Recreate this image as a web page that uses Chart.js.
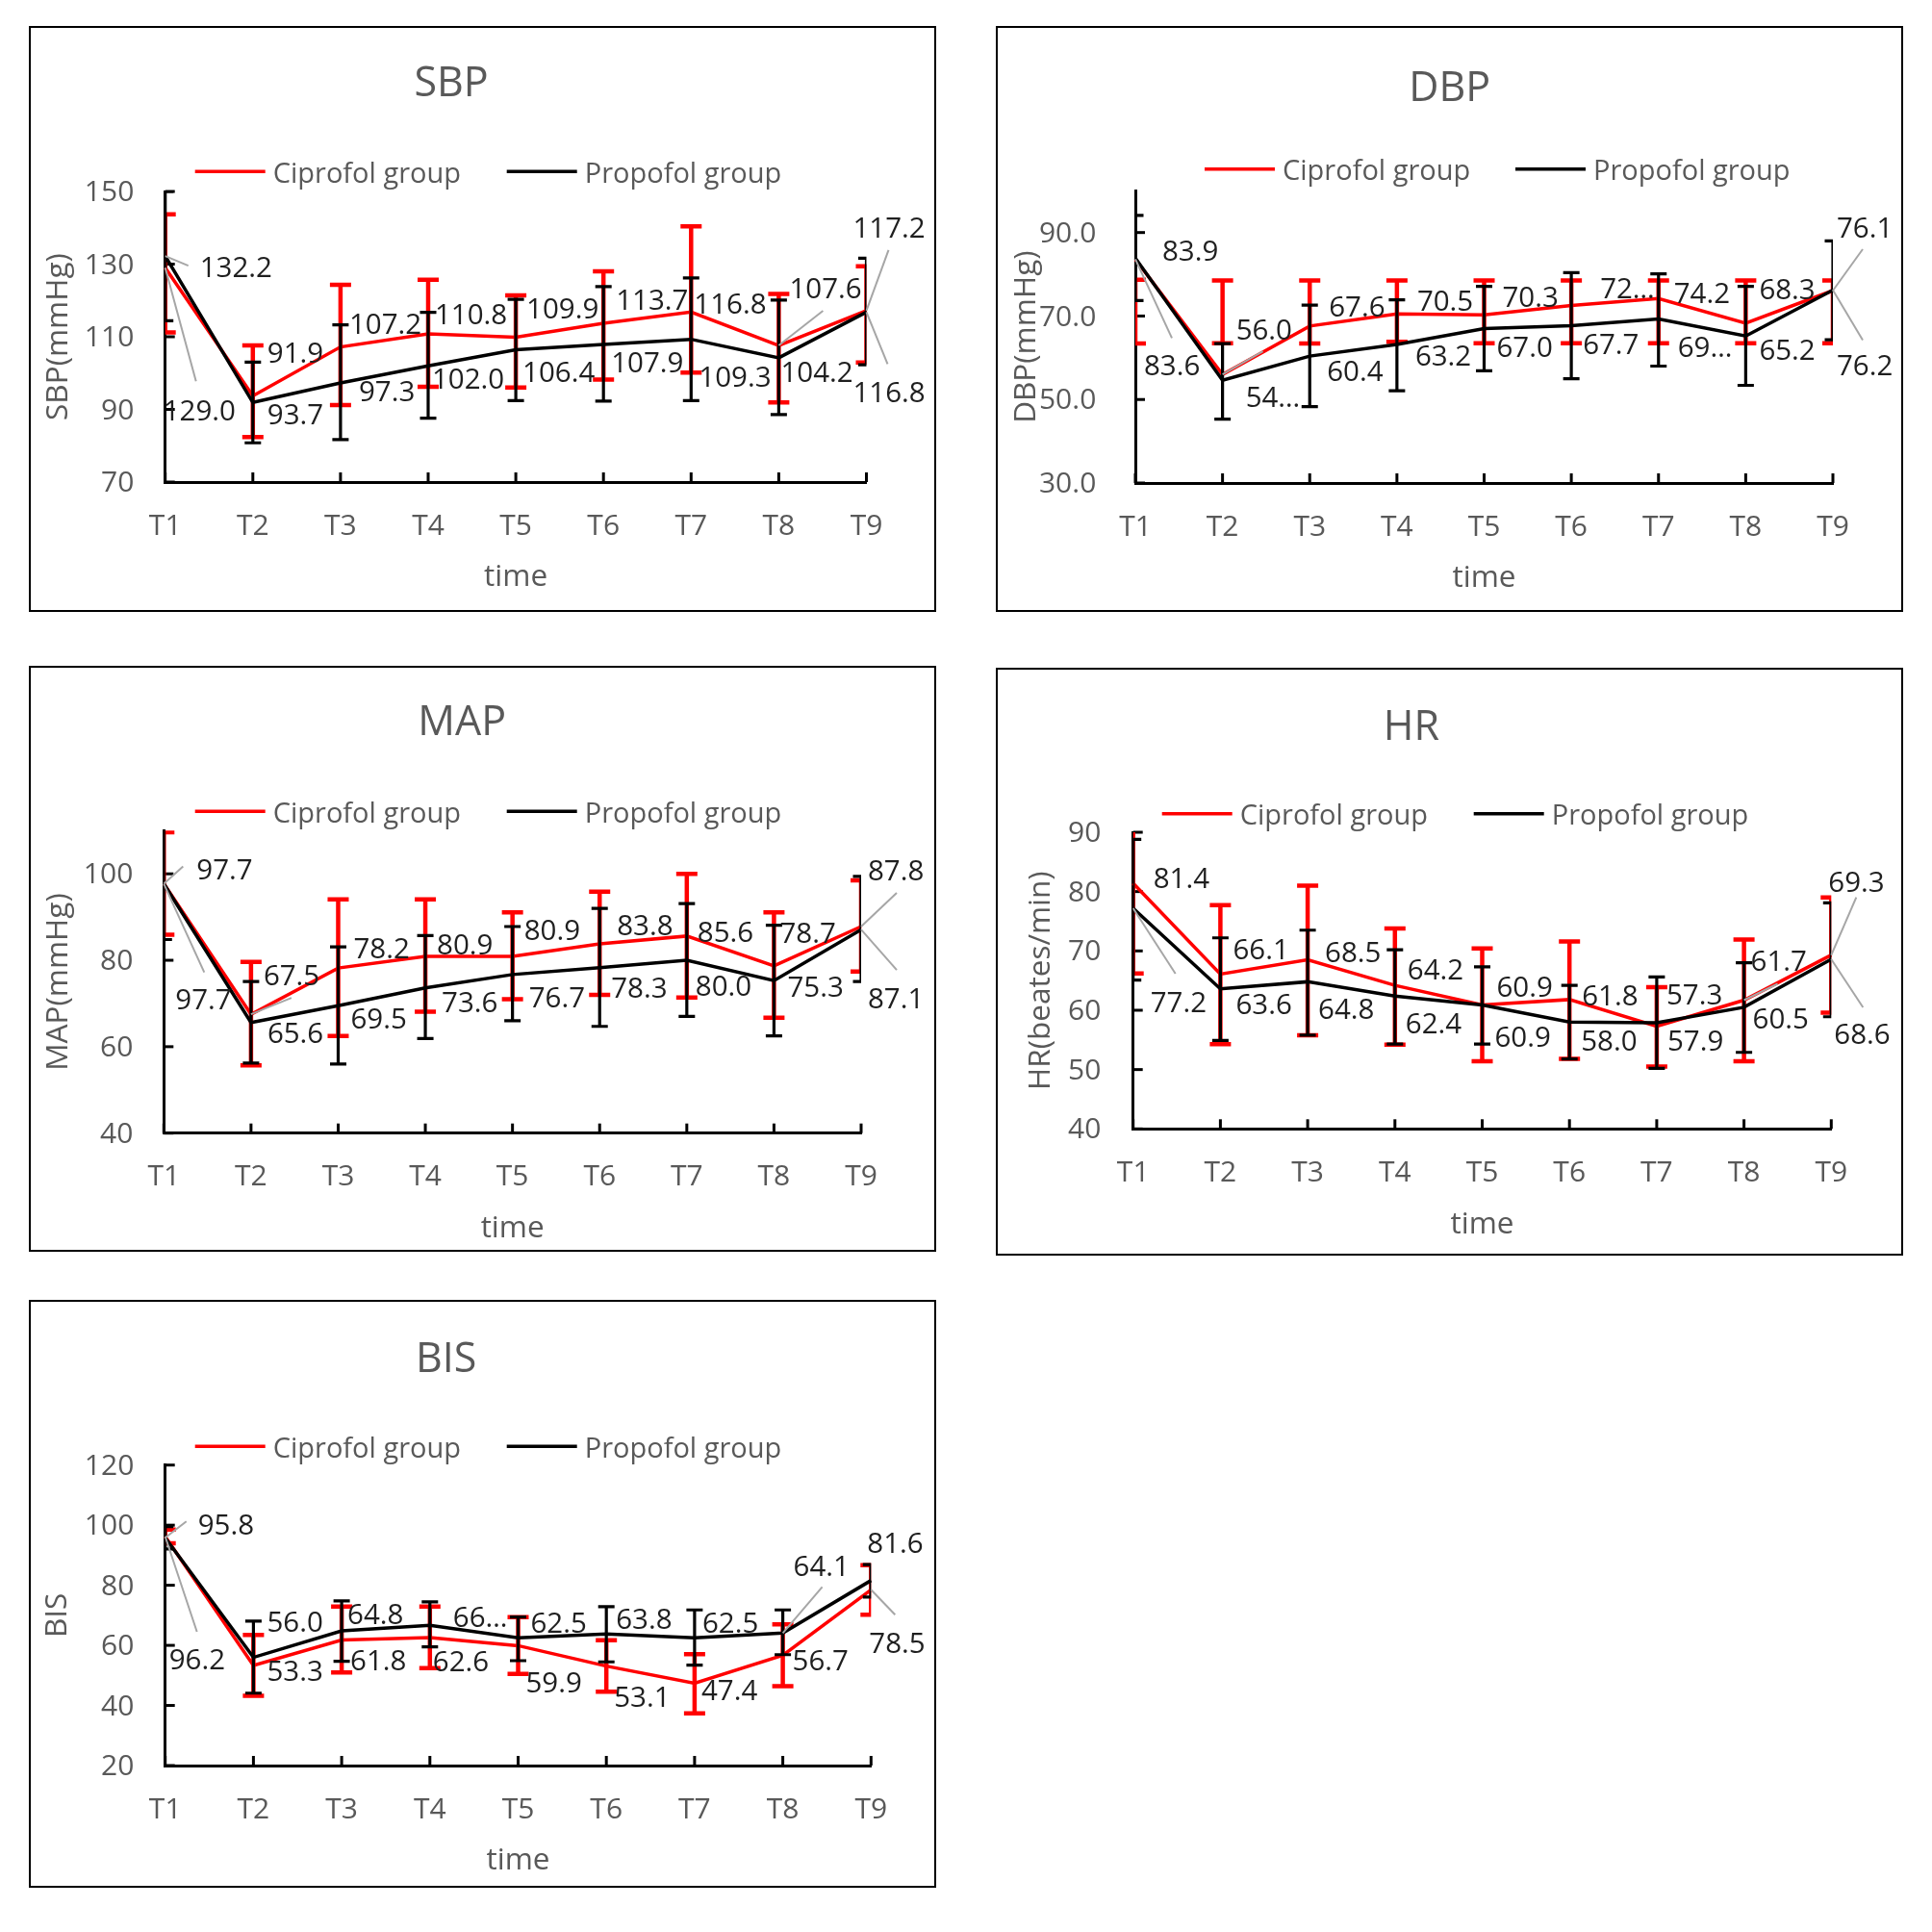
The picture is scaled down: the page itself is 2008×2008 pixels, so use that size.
<!DOCTYPE html>
<html><head><meta charset="utf-8">
<script src="https://cdn.jsdelivr.net/npm/chart.js@4.4.1/dist/chart.umd.min.js"></script>
<style>
html,body{margin:0;padding:0;background:#fff;}
body{width:2008px;height:2008px;position:relative;overflow:hidden;}
.panel{position:absolute;box-sizing:border-box;border:2px solid #000;}
.panel canvas{position:absolute;left:-2px;top:-2px;}
</style></head><body>
<script>
const FONT = "'Open Sans', 'Noto Sans', 'DejaVu Sans', sans-serif";
Chart.defaults.font.family = FONT;

const categories = ['T1','T2','T3','T4','T5','T6','T7','T8','T9'];
const seriesNames = ['Ciprofol group', 'Propofol group'];

// ---- SBP ----
const sbpTicks = [70, 90, 110, 130, 150];
const sbpCiprofol = [129.0, 93.7, 107.2, 110.8, 109.9, 113.7, 116.8, 107.6, 117.2];
const sbpPropofol = [132.2, 91.9, 97.3, 102.0, 106.4, 107.9, 109.3, 104.2, 116.8];
const sbpCiprofolHigh = [143.7, 107.6, 124.3, 125.7, 121.4, 128.0, 140.4, 121.8, 129.4];
const sbpCiprofolLow  = [111.2, 82.4, 91.2, 96.2, 96.0, 98.2, 100.1, 91.9, 102.9];
const sbpPropofolHigh = [150.0, 103.0, 113.3, 116.7, 120.3, 123.8, 126.2, 120.1, 131.6];
const sbpPropofolLow  = [114.4, 80.8, 81.7, 87.6, 92.4, 92.3, 92.4, 88.6, 102.3];

// ---- DBP ----
const dbpTicks = [30, 50, 70, 90];
const dbpCiprofol = [83.6, 56.0, 67.6, 70.5, 70.3, 72.5, 74.2, 68.3, 76.1];
const dbpPropofol = [83.9, 54.6, 60.4, 63.2, 67.0, 67.7, 69.3, 65.2, 76.2];
const dbpCiprofolHigh = [78.7, 78.5, 78.5, 78.5, 78.5, 78.5, 78.5, 78.5, 78.5];
const dbpCiprofolLow  = [63.4, 63.5, 63.4, 63.8, 63.5, 63.5, 63.5, 63.5, 63.5];
const dbpPropofolHigh = [94.1, 63.4, 72.6, 73.9, 77.1, 80.4, 80.1, 77.1, 88.0];
const dbpPropofolLow  = [73.7, 45.3, 48.3, 52.1, 56.9, 55.0, 58.0, 53.4, 64.3];

// ---- MAP ----
const mapTicks = [40, 60, 80, 100];
const mapCiprofol = [97.7, 67.5, 78.2, 80.9, 80.9, 83.8, 85.6, 78.7, 87.8];
const mapPropofol = [97.7, 65.6, 69.5, 73.6, 76.7, 78.3, 80.0, 75.3, 87.1];
const mapCiprofolHigh = [109.6, 79.6, 94.1, 94.1, 91.1, 95.9, 100.0, 91.1, 98.5];
const mapCiprofolLow  = [85.9, 55.7, 62.5, 68.1, 71.0, 72.0, 71.4, 66.7, 77.4];
const mapPropofolHigh = [110.6, 75.1, 83.1, 85.7, 87.8, 92.0, 93.1, 88.1, 99.4];
const mapPropofolLow  = [84.8, 56.2, 56.0, 61.9, 66.0, 64.7, 67.0, 62.5, 75.1];

// ---- HR ----
const hrTicks = [40, 50, 60, 70, 80, 90];
const hrCiprofol = [81.4, 66.1, 68.5, 64.2, 60.9, 61.8, 57.3, 61.7, 69.3];
const hrPropofol = [77.2, 63.6, 64.8, 62.4, 60.9, 58.0, 57.9, 60.5, 68.6];
const hrCiprofolHigh = [96.6, 77.7, 81.0, 73.8, 70.4, 71.6, 63.9, 71.9, 79.0];
const hrCiprofolLow  = [66.2, 54.3, 55.8, 54.2, 51.4, 51.8, 50.5, 51.4, 59.6];
const hrPropofolHigh = [88.8, 72.2, 73.5, 70.2, 67.3, 64.2, 65.6, 68.0, 78.1];
const hrPropofolLow  = [65.1, 54.9, 55.8, 54.3, 54.3, 51.8, 50.2, 52.9, 58.9];

// ---- BIS ----
const bisTicks = [20, 40, 60, 80, 100, 120];
const bisCiprofol = [96.2, 53.3, 61.8, 62.6, 59.9, 53.1, 47.4, 56.7, 78.5];
const bisPropofol = [95.8, 56.0, 64.8, 66.7, 62.5, 63.8, 62.5, 64.1, 81.6];
const bisCiprofolHigh = [98.5, 63.5, 72.9, 72.9, 69.4, 61.7, 57.1, 67.0, 86.7];
const bisCiprofolLow  = [94.0, 43.2, 51.0, 52.4, 50.5, 44.6, 37.4, 46.4, 70.2];
const bisPropofolHigh = [99.5, 68.1, 74.8, 74.5, 69.4, 72.9, 71.8, 71.8, 86.9];
const bisPropofolLow  = [92.1, 44.1, 54.7, 59.5, 54.9, 54.5, 53.4, 56.9, 76.1];

// ---- label placement (offsets in px: [dx, dy, leaderX, leaderY, keepChars]) ----
const sbpCipLbl = [[-2,147,32,118],[15,18],[9,-25],[7,-21],[11,-31],[13,-25],[3,-10],[11,-60,46,-36],[-14,-87,23,-63]];
const sbpProLbl = [[36,10,24,10],[15,-53],[19,8],[4,12],[7,22],[8,18],[8,38],[2,14],[-14,82,22,54]];
const dbpCipLbl = [[9,109,38,82],[14,-48,42,-24],[20,-21],[21,-15],[19,-20],[30,-19,null,null,2],[16,-7],[14,-36],[4,-66,31,-43]];
const dbpProLbl = [[28,-9],[24,16,null,null,2],[18,14],[19,11],[13,18],[12,18],[20,28,null,null,2],[14,13],[4,77,31,52]];
const mapCipLbl = [[12,119,42,92],[13,-42,42,-17],[16,-22],[12,-13],[12,-28],[18,-20],[11,-5],[6,-35],[7,-59,37,-35]];
const mapProLbl = [[34,-16,20,-18],[17,10],[13,12],[17,14],[17,23],[12,20],[9,26],[14,5],[7,70,37,42]];
const hrCipLbl = [[21,-6],[13,-27],[18,-9],[13,-17],[15,-20],[13,-5],[10,-34],[7,-42,35,-17],[-3,-77,26,-60]];
const hrProLbl = [[18,97,44,68],[16,15],[11,27],[11,27],[13,32],[12,18],[11,18],[9,11],[3,77,33,50]];
const bisCipLbl = [[4,127,33,99],[14,5],[9,20],[3,24],[8,37],[8,31],[7,6],[10,4],[-2,54,25,26]];
const bisProLbl = [[34,-15,22,-17],[14,-38],[6,-18],[24,-10,null,null,2],[13,-17],[10,-17],[8,-17],[11,-71,41,-48],[-4,-40]];

const panels = [
  {title:'SBP', yTitle:'SBP(mmHg)', box:[30,27,943,609], area:[171.7,900.5,199,501], yMin:70, yMax:150, ticks:sbpTicks, dec:0,
   yGap:32.4, yTitleX:61, titlePos:[469,88], legend:[178.3,202.7,526.7],
   cip:sbpCiprofol, pro:sbpPropofol, cipHi:sbpCiprofolHigh, cipLo:sbpCiprofolLow, proHi:sbpPropofolHigh, proLo:sbpPropofolLow, cipLbl:sbpCipLbl, proLbl:sbpProLbl},
  {title:'DBP', yTitle:'DBP(mmHg)', box:[1035,27,943,609], area:[1180,1905,198.3,502], yMin:30, yMax:100, ticks:dbpTicks, dec:1,
   yGap:40.7, yTitleX:1066.7, titlePos:[1506.6,92.5], legend:[175.7,1252,1575],
   cip:dbpCiprofol, pro:dbpPropofol, cipHi:dbpCiprofolHigh, cipLo:dbpCiprofolLow, proHi:dbpPropofolHigh, proLo:dbpPropofolLow, cipLbl:dbpCipLbl, proLbl:dbpProLbl},
  {title:'MAP', yTitle:'MAP(mmHg)', box:[30,692,943,609], area:[170.3,895,863.3,1177.7], yMin:40, yMax:110, ticks:mapTicks, dec:0,
   yGap:32, yTitleX:61, titlePos:[480.2,752], legend:[843.3,202.7,526.7],
   cip:mapCiprofol, pro:mapPropofol, cipHi:mapCiprofolHigh, cipLo:mapCiprofolLow, proHi:mapPropofolHigh, proLo:mapPropofolLow, cipLbl:mapCipLbl, proLbl:mapProLbl},
  {title:'HR', yTitle:'HR(beates/min)', box:[1035,694,943,611], area:[1177.7,1903.3,865,1173.3], yMin:40, yMax:90, ticks:hrTicks, dec:0,
   yGap:33.4, yTitleX:1081.8, titlePos:[1466.9,757], legend:[845.7,1207.7,1531.7],
   cip:hrCiprofol, pro:hrPropofol, cipHi:hrCiprofolHigh, cipLo:hrCiprofolLow, proHi:hrPropofolHigh, proLo:hrPropofolLow, cipLbl:hrCipLbl, proLbl:hrProLbl},
  {title:'BIS', yTitle:'BIS', box:[30,1351,943,611], area:[171.7,905.3,1522.7,1835], yMin:20, yMax:120, ticks:bisTicks, dec:0,
   yGap:32.4, yTitleX:60, titlePos:[463.6,1414], legend:[1503.3,202.7,526.7],
   cip:bisCiprofol, pro:bisPropofol, cipHi:bisCiprofolHigh, cipLo:bisCiprofolLow, proHi:bisPropofolHigh, proLo:bisPropofolLow, cipLbl:bisCipLbl, proLbl:bisProLbl}
];

const RED = '#FF0000', BLACK = '#000000';
const TEXT_GRAY = '#595959', LABEL = '#1f1f1f', LEADER = '#A6A6A6';
const TEXT_DY = 3; // canvas 'middle' baseline correction

function makePanel(cfg) {
  const [bx, by, bw, bh] = cfg.box;
  const [aL, aR, aT, aB] = cfg.area;
  const div = document.createElement('div');
  div.className = 'panel';
  Object.assign(div.style, {left: bx+'px', top: by+'px', width: bw+'px', height: bh+'px'});
  const cv = document.createElement('canvas');
  cv.width = bw; cv.height = bh;
  cv.style.width = bw+'px'; cv.style.height = bh+'px';
  div.appendChild(cv);
  document.body.appendChild(div);

  const yw = aL - bx;
  const xh = by + bh - aB;
  const titleLH = 31.5 * 1.2;

  const errStyle = [
    {color: RED, width: 4.5, cap: 22},
    {color: BLACK, width: 3.2, cap: 17}
  ];
  const errHigh = [cfg.cipHi, cfg.proHi];
  const errLow = [cfg.cipLo, cfg.proLo];

  const decor = {
    id: 'decor' + cfg.title,
    beforeDatasetsDraw(chart) {
      const ctx = chart.ctx, xs = chart.scales.x, ys = chart.scales.y;
      const ca = chart.chartArea;
      ctx.save();
      ctx.strokeStyle = '#000'; ctx.lineWidth = 3;
      cfg.ticks.forEach(v => {
        const py = ys.getPixelForValue(v);
        ctx.beginPath(); ctx.moveTo(ca.left, py); ctx.lineTo(ca.left + 10, py); ctx.stroke();
      });
      categories.forEach((c, i) => {
        const px = xs.getPixelForValue(i);
        ctx.beginPath(); ctx.moveTo(px, ca.bottom); ctx.lineTo(px, ca.bottom - 10); ctx.stroke();
      });
      ctx.restore();
    },
    afterDatasetDraw(chart, args) {
      const ctx = chart.ctx, xs = chart.scales.x, ys = chart.scales.y;
      const ca = chart.chartArea;
      const k = args.index;
      const st = errStyle[k];
      ctx.save();
      ctx.beginPath();
      ctx.rect(ca.left, ca.top, ca.right - ca.left, ca.bottom - ca.top);
      ctx.clip();
      ctx.strokeStyle = st.color; ctx.lineWidth = st.width; ctx.lineCap = 'butt';
      categories.forEach((c, i) => {
        const px = xs.getPixelForValue(i);
        const hi = ys.getPixelForValue(errHigh[k][i]);
        const lo = ys.getPixelForValue(errLow[k][i]);
        ctx.beginPath();
        ctx.moveTo(px, hi); ctx.lineTo(px, lo);
        ctx.moveTo(px - st.cap/2, hi); ctx.lineTo(px + st.cap/2, hi);
        ctx.moveTo(px - st.cap/2, lo); ctx.lineTo(px + st.cap/2, lo);
        ctx.stroke();
      });
      ctx.restore();
    },
    afterDraw(chart) {
      const ctx = chart.ctx, xs = chart.scales.x, ys = chart.scales.y;
      ctx.save();
      // title
      ctx.fillStyle = TEXT_GRAY;
      ctx.font = `43px ${FONT}`;
      ctx.textAlign = 'center'; ctx.textBaseline = 'middle';
      ctx.fillText(cfg.title, cfg.titlePos[0] - bx, cfg.titlePos[1] - by);
      // legend
      const ly = cfg.legend[0] - by;
      [[cfg.legend[1], RED, seriesNames[0]], [cfg.legend[2], BLACK, seriesNames[1]]].forEach(([lx, col, name]) => {
        ctx.strokeStyle = col; ctx.lineWidth = 3.5;
        ctx.beginPath(); ctx.moveTo(lx - bx, ly); ctx.lineTo(lx - bx + 73, ly); ctx.stroke();
        ctx.fillStyle = TEXT_GRAY; ctx.font = `29px ${FONT}`;
        ctx.textAlign = 'left'; ctx.textBaseline = 'middle';
        ctx.fillText(name, lx - bx + 81, ly + TEXT_DY);
      });
      // data labels
      const sets = [[cfg.cip, cfg.cipLbl], [cfg.pro, cfg.proLbl]];
      ctx.strokeStyle = LEADER; ctx.lineWidth = 2;
      sets.forEach(([vals, pos]) => {
        vals.forEach((v, i) => {
          const p = pos[i];
          if (p[2] == null) return;
          const px = xs.getPixelForValue(i), py = ys.getPixelForValue(v);
          ctx.beginPath(); ctx.moveTo(px, py); ctx.lineTo(px + p[2], py + p[3]); ctx.stroke();
        });
      });
      ctx.fillStyle = LABEL; ctx.font = `29.5px ${FONT}`;
      ctx.textAlign = 'left'; ctx.textBaseline = 'middle';
      sets.forEach(([vals, pos]) => {
        vals.forEach((v, i) => {
          const p = pos[i];
          const px = xs.getPixelForValue(i), py = ys.getPixelForValue(v);
          let txt = v.toFixed(1);
          if (p[4]) txt = txt.slice(0, p[4]) + '\u2026';
          ctx.fillText(txt, px + p[0], py + p[1] + TEXT_DY);
        });
      });
      ctx.restore();
    }
  };

  new Chart(cv, {
    type: 'line',
    data: {
      labels: categories,
      datasets: [
        {label: seriesNames[0], data: cfg.cip, borderColor: RED, backgroundColor: RED, borderWidth: 3.5, pointRadius: 0, tension: 0, order: 2},
        {label: seriesNames[1], data: cfg.pro, borderColor: BLACK, backgroundColor: BLACK, borderWidth: 3.5, pointRadius: 0, tension: 0, order: 1}
      ]
    },
    options: {
      responsive: false, animation: false, devicePixelRatio: 1,
      layout: {padding: {left: 0, top: aT - by, right: bw - (aR - bx), bottom: 0}},
      plugins: {legend: {display: false}, title: {display: false}, tooltip: {enabled: false}},
      scales: {
        x: {
          type: 'category', offset: false,
          afterFit: s => { s.height = xh; },
          grid: {display: false, drawTicks: false},
          border: {display: true, color: '#000', width: 3},
          ticks: {font: {size: 30}, color: TEXT_GRAY, padding: 28, maxRotation: 0, autoSkip: false},
          title: {display: true, text: 'time', font: {size: 31.5}, color: TEXT_GRAY,
                  padding: {top: 0, bottom: xh - titleLH/2 - 99.5}}
        },
        y: {
          type: 'linear', min: cfg.yMin, max: cfg.yMax,
          afterBuildTicks: s => { s.ticks = cfg.ticks.map(v => ({value: v})); },
          afterFit: s => { s.width = yw; },
          grid: {display: false, drawTicks: false},
          border: {display: true, color: '#000', width: 3},
          ticks: {font: {size: 30}, color: TEXT_GRAY, padding: cfg.yGap, labelOffset: 1.5,
                  callback: v => Number(v).toFixed(cfg.dec)},
          title: {display: true, text: cfg.yTitle, font: {size: 31.5}, color: TEXT_GRAY,
                  padding: {top: (cfg.yTitleX - bx) - titleLH/2, bottom: 0}}
        }
      }
    },
    plugins: [decor]
  });
}

panels.forEach(makePanel);
</script>
</body></html>
